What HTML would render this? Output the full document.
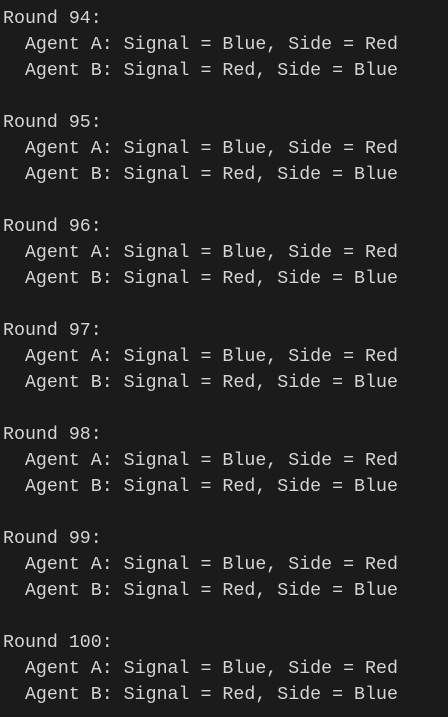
<!DOCTYPE html>
<html><head><style>
html,body{margin:0;padding:0;background:#1b1b1b;width:448px;height:717px;overflow:hidden}
pre{margin:0;padding:6px 0 0 3px;font-family:"Liberation Mono","DejaVu Sans Mono",monospace;font-size:18.3px;line-height:26px;color:#d4d4d4}
</style></head><body><pre>Round 94:
  Agent A: Signal = Blue, Side = Red
  Agent B: Signal = Red, Side = Blue

Round 95:
  Agent A: Signal = Blue, Side = Red
  Agent B: Signal = Red, Side = Blue

Round 96:
  Agent A: Signal = Blue, Side = Red
  Agent B: Signal = Red, Side = Blue

Round 97:
  Agent A: Signal = Blue, Side = Red
  Agent B: Signal = Red, Side = Blue

Round 98:
  Agent A: Signal = Blue, Side = Red
  Agent B: Signal = Red, Side = Blue

Round 99:
  Agent A: Signal = Blue, Side = Red
  Agent B: Signal = Red, Side = Blue

Round 100:
  Agent A: Signal = Blue, Side = Red
  Agent B: Signal = Red, Side = Blue</pre></body></html>
